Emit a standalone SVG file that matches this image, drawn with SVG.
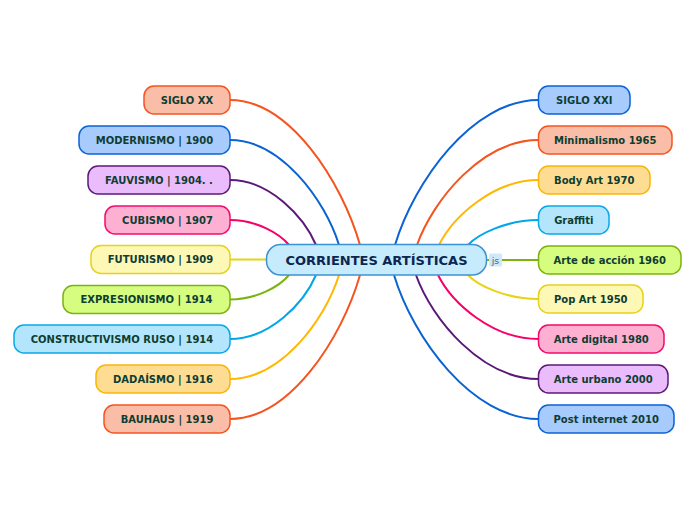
<svg xmlns="http://www.w3.org/2000/svg" width="696" height="520" viewBox="0 0 696 520">
<style>
.n rect{stroke-width:1.5}
.n text{font-family:"DejaVu Sans","Verdana",sans-serif;font-weight:bold;font-size:10px;fill:#0e3d32;text-anchor:middle}
.c path{fill:none;stroke-width:2}
.salmon rect{fill:#f9bda8;stroke:#f5541f}
.blue rect{fill:#a8cbfe;stroke:#0b63d6}
.purple rect{fill:#ebbcfc;stroke:#5b1a78}
.pink rect{fill:#feb0d2;stroke:#f50a6a}
.yellow rect{fill:#fef8b6;stroke:#e8d11b}
.green rect{fill:#d6fc80;stroke:#7cb312}
.cyan rect{fill:#b3e6fc;stroke:#0aa8e8}
.orange rect{fill:#fedd93;stroke:#fbb50a}
</style>
<rect width="696" height="520" fill="#ffffff"/>
<g id="connectors" class="c">
<path d="M230,100 C290,100 342,182 360,245" stroke="#f5541f"/>
<path d="M230,140 C281,140 325,200 339,245" stroke="#0a62d3"/>
<path d="M230,180 C270,180 304,217 316,245" stroke="#5a1976"/>
<path d="M230,220 C257,220 280,234 289,245" stroke="#f7006b"/>
<path d="M230,259.5 L267,259.5" stroke="#e8d313"/>
<path d="M230,299.5 C257,299.5 280,286 289,275" stroke="#7cb40f"/>
<path d="M230,339 C270,339 304,303 316,275" stroke="#00a7e8"/>
<path d="M230,379 C281,379 325,320 339,275" stroke="#ffb700"/>
<path d="M230,419 C290,419 342,338 360,275" stroke="#f5541f"/>
<path d="M395,245 C414,182 472,100 538.5,100" stroke="#0a62d3"/>
<path d="M417,245 C433,200 482,140 538.5,140" stroke="#f5541f"/>
<path d="M439,245 C453,217 493,180 538.5,180" stroke="#ffb700"/>
<path d="M468,245 C478,234 507,220 538.5,220" stroke="#00a7e8"/>
<path d="M487,260 L538.5,260" stroke="#7cb40f"/>
<path d="M468,275 C478,286 507,299 538.5,299" stroke="#e8d313"/>
<path d="M438,275 C452,303 492,339 538.5,339" stroke="#f7006b"/>
<path d="M416,275 C432,320 482,379 538.5,379" stroke="#5a1976"/>
<path d="M394,275 C413,338 472,419 538.5,419" stroke="#0a62d3"/>
</g>
<g id="center">
<rect x="266.5" y="244.5" width="220" height="30.5" rx="14" fill="#c6ebfc" stroke="#3d92d4" stroke-width="1.5"/>
<text x="376.5" y="264.5" font-family="DejaVu Sans, Verdana, sans-serif" font-weight="bold" font-size="13" fill="#0d2650" text-anchor="middle">CORRIENTES ARTÍSTICAS</text>
</g>
<g id="js-badge">
<rect x="489" y="253.5" width="13" height="13" rx="1.5" fill="#cde9fa"/>
<text x="495.5" y="263.5" font-family="DejaVu Sans, sans-serif" font-size="9.5" fill="#3b6a94" text-anchor="middle">js</text>
</g>
<g id="n-siglo-xx" class="n salmon"><rect x="144" y="86" width="86" height="28" rx="10"/><text x="187" y="103.5">SIGLO XX</text></g>
<g id="n-modernismo" class="n blue"><rect x="79" y="126" width="151" height="28" rx="10"/><text x="154.5" y="143.5">MODERNISMO | 1900</text></g>
<g id="n-fauvismo" class="n purple"><rect x="88" y="166" width="142" height="28" rx="10"/><text x="159" y="183.5">FAUVISMO | 1904. .</text></g>
<g id="n-cubismo" class="n pink"><rect x="105" y="206" width="125" height="28" rx="10"/><text x="167.5" y="223.5">CUBISMO | 1907</text></g>
<g id="n-futurismo" class="n yellow"><rect x="91" y="245.5" width="139" height="28" rx="10"/><text x="160.5" y="263">FUTURISMO | 1909</text></g>
<g id="n-expresionismo" class="n green"><rect x="63" y="285.5" width="167" height="28" rx="10"/><text x="146.5" y="303">EXPRESIONISMO | 1914</text></g>
<g id="n-constructivismo" class="n cyan"><rect x="14" y="325" width="216" height="28" rx="10"/><text x="122" y="342.5">CONSTRUCTIVISMO RUSO | 1914</text></g>
<g id="n-dadaismo" class="n orange"><rect x="96" y="365" width="134" height="28" rx="10"/><text x="163" y="382.5">DADAÍSMO | 1916</text></g>
<g id="n-bauhaus" class="n salmon"><rect x="104" y="405" width="126" height="28" rx="10"/><text x="167" y="422.5">BAUHAUS | 1919</text></g>
<g id="n-siglo-xxi" class="n blue"><rect x="538.5" y="86" width="91.5" height="28" rx="10"/><text x="584.25" y="103.5">SIGLO XXI</text></g>
<g id="n-minimalismo" class="n salmon"><rect x="538.5" y="126" width="133.5" height="28" rx="10"/><text x="605.25" y="143.5">Minimalismo 1965</text></g>
<g id="n-body-art" class="n orange"><rect x="538.5" y="166" width="111.5" height="28" rx="10"/><text x="594.25" y="183.5">Body Art 1970</text></g>
<g id="n-graffiti" class="n cyan"><rect x="538.5" y="206" width="70.5" height="28" rx="10"/><text x="573.75" y="223.5">Graffiti</text></g>
<g id="n-arte-accion" class="n green"><rect x="538.5" y="246" width="142.5" height="28" rx="10"/><text x="609.75" y="263.5">Arte de acción 1960</text></g>
<g id="n-pop-art" class="n yellow"><rect x="538.5" y="285" width="104.5" height="28" rx="10"/><text x="590.75" y="302.5">Pop Art 1950</text></g>
<g id="n-arte-digital" class="n pink"><rect x="538.5" y="325" width="125.5" height="28" rx="10"/><text x="601.25" y="342.5">Arte digital 1980</text></g>
<g id="n-arte-urbano" class="n purple"><rect x="538.5" y="365" width="129.5" height="28" rx="10"/><text x="603.25" y="382.5">Arte urbano 2000</text></g>
<g id="n-post-internet" class="n blue"><rect x="538.5" y="405" width="135.5" height="28" rx="10"/><text x="606.25" y="422.5">Post internet 2010</text></g>
</svg>
